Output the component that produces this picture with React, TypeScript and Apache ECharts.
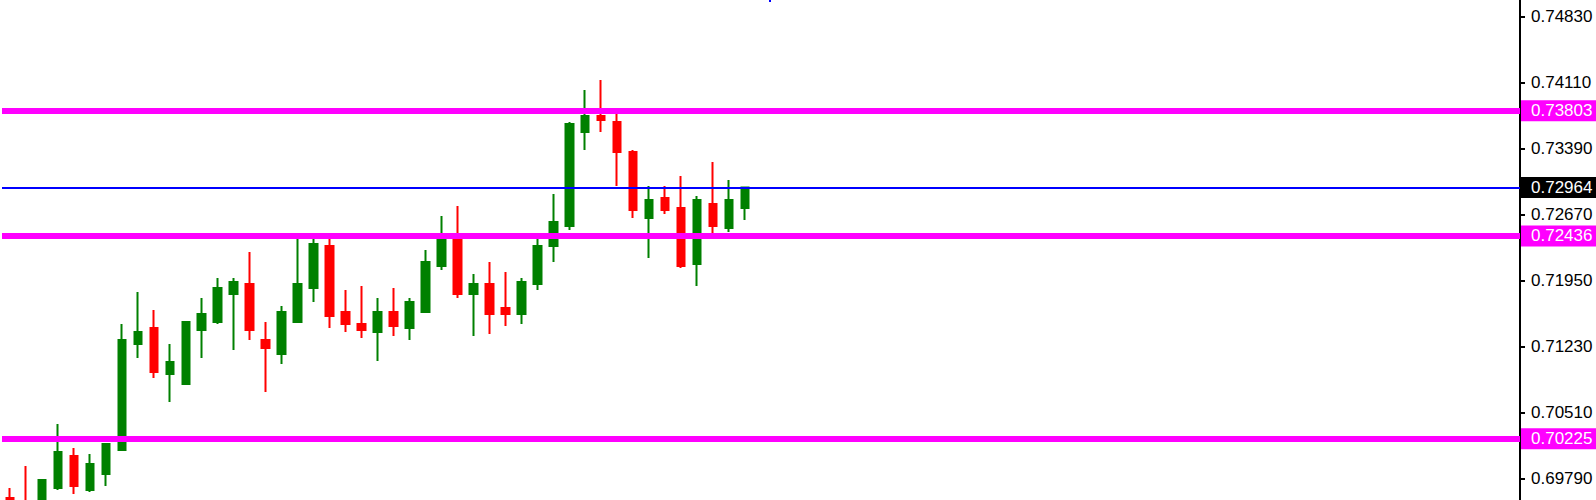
import React, { useEffect, useRef } from "react";
import * as echarts from "echarts";

// OHLC values (47 candles)
const opens = [
  0.69577, 0.69512, 0.69392, 0.69686, 0.70036, 0.69665, 0.69839, 0.70101, 0.71257, 0.71432,
  0.7093, 0.70821, 0.7141, 0.71497, 0.71803, 0.71912, 0.71301, 0.71148, 0.71497, 0.71868,
  0.72326, 0.71606, 0.71475, 0.71388, 0.71606, 0.71432, 0.71606, 0.72108, 0.72425, 0.71803,
  0.71912, 0.7165, 0.71585, 0.71912, 0.72326, 0.72545, 0.7357, 0.73745, 0.73679, 0.73352,
  0.72632, 0.7285, 0.72741, 0.7213, 0.72785, 0.72523, 0.72741,
];
const closes = [
  0.69446, 0.69425, 0.69774, 0.70079, 0.69708, 0.69948, 0.70166, 0.71301, 0.71388, 0.70952,
  0.71061, 0.71497, 0.71585, 0.71868, 0.71934, 0.7141, 0.71214, 0.71606, 0.71912, 0.72348,
  0.71563, 0.71475, 0.7141, 0.71606, 0.71454, 0.71716, 0.72152, 0.72425, 0.71803, 0.71912,
  0.71585, 0.71585, 0.71934, 0.72326, 0.72588, 0.73657, 0.73745, 0.73701, 0.73352, 0.72719,
  0.72828, 0.72719, 0.72108, 0.72828, 0.72545, 0.72828, 0.72964,
];
const lows = [
  0.69381, 0.69315, 0.69337, 0.69665, 0.69621, 0.69643, 0.69708, 0.70101, 0.71105, 0.70886,
  0.70625, 0.70821, 0.71105, 0.71475, 0.71192, 0.71301, 0.70734, 0.71039, 0.71497, 0.71716,
  0.71432, 0.71388, 0.71323, 0.71072, 0.71345, 0.71301, 0.71606, 0.72065, 0.71759, 0.71345,
  0.71366, 0.71454, 0.71475, 0.71846, 0.72152, 0.72501, 0.73374, 0.7357, 0.72981, 0.72632,
  0.72196, 0.72676, 0.72086, 0.7189, 0.72457, 0.72479, 0.7261,
];
const highs = [
  0.69686, 0.69926, 0.69774, 0.70385, 0.70123, 0.70057, 0.70166, 0.71475, 0.71824, 0.71628,
  0.71257, 0.71497, 0.71759, 0.71977, 0.71977, 0.72261, 0.71497, 0.71672, 0.72425, 0.72425,
  0.72425, 0.71846, 0.7189, 0.71759, 0.71868, 0.71759, 0.72283, 0.72654, 0.72763, 0.72021,
  0.72152, 0.72043, 0.71977, 0.72414, 0.72894, 0.73679, 0.74028, 0.74137, 0.73788, 0.73374,
  0.72981, 0.72981, 0.7309, 0.72872, 0.73243, 0.73046, 0.72964,
];

const priceTicks = [0.6979, 0.7051, 0.7123, 0.7195, 0.7267, 0.7339, 0.7411, 0.7483];
const levelLines = [0.73803, 0.72436, 0.70225];
const currentPrice = 0.72964;
const yMin = 0.69556;
const yMax = 0.7501;
const totalSlots = 95;

const FONT = "Liberation Sans";

export default function App() {
  const ref = useRef<HTMLDivElement>(null);

  useEffect(() => {
    if (!ref.current) return;
    const chart = echarts.init(ref.current, undefined, { renderer: "svg" });
    const categories = opens.map((_, i) => String(i + 1));
    const data = opens.map((o, i) => [o, closes[i], lows[i], highs[i]]);

    const baseLabel = {
      show: true,
      position: "end" as const,
      distance: 1,
      fontFamily: FONT,
      fontSize: 17,
      lineHeight: 17,
      padding: [2, 40, 2, 10],
      formatter: (p: any) => Number(p.value).toFixed(5),
    };

    chart.setOption({
      animation: false,
      backgroundColor: "#ffffff",
      grid: { left: 2, right: 76, top: 0, bottom: 0, containLabel: false },
      xAxis: {
        type: "category",
        data: categories,
        max: totalSlots - 1,
        boundaryGap: true,
        show: false,
      },
      yAxis: {
        type: "value",
        position: "right",
        min: yMin,
        max: yMax,
        scale: true,
        splitLine: { show: false },
        axisLine: { show: true, lineStyle: { color: "#000000", width: 2 } },
        axisTick: {
          show: true,
          length: 5,
          lineStyle: { color: "#000000", width: 2 },
          customValues: priceTicks,
        },
        axisLabel: {
          show: true,
          margin: 11,
          color: "#000000",
          fontFamily: FONT,
          fontSize: 17,
          customValues: priceTicks,
          formatter: (v: number) => v.toFixed(5),
        },
      },
      series: [
        {
          type: "candlestick",
          data,
          barWidth: 8,
          clip: false,
          itemStyle: {
            color: "#008000",
            color0: "#ff0000",
            borderColor: "#008000",
            borderColor0: "#ff0000",
            borderColorDoji: "#008000",
            borderWidth: 2,
          },
          markLine: {
            symbol: ["none", "none"],
            silent: true,
            animation: false,
            precision: 5,
            data: [
              ...levelLines.map((v) => ({
                yAxis: v,
                lineStyle: { color: "#ff00ff", width: 6, type: "solid" },
                label: { ...baseLabel, color: "#ffffff", backgroundColor: "#ff00ff" },
              })),
              {
                yAxis: currentPrice,
                lineStyle: { color: "#0000ff", width: 2, type: "solid" },
                label: { ...baseLabel, color: "#ffffff", backgroundColor: "#000000" },
              },
            ],
          },
        },
      ],
      graphic: [
        {
          type: "rect",
          shape: { x: 769, y: 0, width: 2, height: 2 },
          style: { fill: "#0000ff" },
        },
      ],
    });
    return () => chart.dispose();
  }, []);

  return (
    <div
      ref={ref}
      style={{ position: "absolute", left: 0, top: 0, width: 1596, height: 500, overflow: "hidden" }}
    />
  );
}
